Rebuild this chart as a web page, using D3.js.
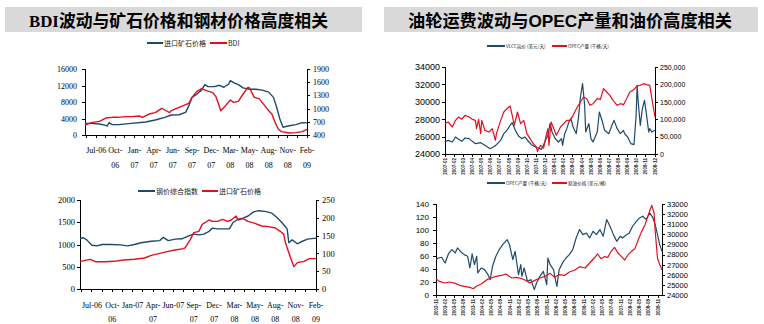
<!DOCTYPE html>
<html><head><meta charset="utf-8">
<script src="https://cdn.jsdelivr.net/npm/d3@7"></script>
<style>body{margin:0;background:#fff}svg{display:block}</style>
</head><body><svg id="c" width="764" height="324"></svg>
<script>
// ---------- DATA ----------
// Top-left: 进口矿石价格 (right axis) & BDI (left axis), weekly index from mid-2006
const tlOreWeek  = [0,4,9,13,14,15,17,21,29,38,44,50,54,59,61,63,65,67,70,73,75,77,81,84,87,90,91,94,96,99,103,107,111,115,118,120,122,124,127,132,136,139];
const tlOreValue = [665,665,650,620,605,680,635,635,665,695,740,800,855,860,890,915,1065,1255,1330,1420,1545,1500,1500,1530,1485,1560,1635,1575,1545,1470,1440,1440,1420,1375,1255,1030,765,575,605,635,680,675];
const tlBdiWeek  = [0,4,9,13,17,21,25,29,34,36,40,44,48,50,53,54,59,63,65,67,70,73,76,80,82,84,85,88,91,93,96,99,102,103,106,109,112,115,117,119,121,123,128,132,136,139];
const tlBdiValue = [2425,2990,3315,4120,4285,4285,4445,4445,4605,4285,5090,5415,6465,6060,5415,5900,6705,7355,7675,9130,10585,11230,10745,10260,9290,7110,5900,7110,8485,7920,8160,9940,11555,11390,9130,8805,7355,5900,5090,3070,1455,810,485,565,810,1375];
const tlLabelWeek = [7,19,31,43,55,67,79,91,103,115,127,139];
const tlLabels = ["Jul-06","Oct-\n06","Jan-\n07","Apr-\n07","Jun-\n07","Sep-\n07","Dec-\n07","Mar-\n08","May-\n08","Aug-\n08","Nov-\n08","Feb-\n09"];

// Bottom-left: 钢价综合指数 (right axis) & 进口矿石价格 (left axis)
const blSteelWeek  = [0,2,4,7,10,13,18,24,28,32,36,42,47,49,52,56,60,64,67,70,73,76,78,81,85,88,90,93,96,99,102,105,109,113,116,119,122,123,125,128,130,134,139];
const blSteelValue = [142,144,138,123,121,125,125,124,121,125,130,134,136,145,136,140,141,149,154,152,154,162,171,169,169,169,186,196,199,205,216,220,218,213,201,186,169,130,138,127,132,140,143];
const blOreWeek  = [0,3,6,9,15,20,26,32,38,42,47,52,56,61,62,65,67,70,72,76,78,81,84,87,89,92,93,96,99,103,107,111,115,118,120,121,124,126,128,132,135,139];
const blOreValue = [614,644,667,614,614,622,652,667,697,756,801,846,876,906,929,1116,1266,1296,1453,1550,1520,1520,1565,1520,1550,1640,1550,1580,1520,1476,1416,1401,1371,1296,1228,1041,704,502,592,622,682,682];
const blLabelWeek = [7,19,31,43,55,67,79,91,103,115,127,139];
const blLabels = ["Jul-06","Oct-\n06","Jan-07","Apr-\n07","Jun-07","Sep-\n07","Dec-\n07","Mar-\n08","May-\n08","Aug-\n08","Nov-\n08","Feb-\n09"];

// Top-right: VLCC运价 (right axis) & OPEC产量 (left axis)
const trOpecIdx = [0,3,7,10,13,16,19,23,26,29,30,32,34,35,38,42,45,48,49,53,56,59,62,64,66,69,72,75,78,81,84,87,88,91,94,96,98,99,101,103,106,110,113,116,119,122,126,129,132,135,138,141,145,148,151,154,157,160,164,167,170,173,176,179,183,186,189,192,195,197,200];
const trOpecValue = [27486,27678,27103,27869,28252,27984,28444,28252,27984,27869,26912,27984,26337,27869,26720,26528,26912,25571,26337,27869,28827,29210,29517,28444,27295,28827,27486,27869,26337,25762,25188,24805,24306,24996,24690,25954,26912,24996,27678,27103,26145,27103,27486,27869,27869,28444,29402,29976,30551,30359,29593,29785,30359,30283,31509,31126,30743,30168,29593,29785,29670,30359,31126,31317,31815,31892,32083,31968,31892,30359,28252];
const trVlccIdx = [0,3,7,10,13,16,19,23,26,29,34,38,43,46,49,53,56,59,62,64,67,70,73,76,80,83,86,89,92,95,98,100,102,105,108,111,112,114,116,118,120,122,125,127,129,131,133,134,137,139,141,145,147,150,152,156,159,161,164,167,170,171,174,177,180,182,183,184,186,188,190,192,194,195,197,200];
const trVlccValue = [34500,39300,34500,48900,42100,36400,46000,44100,36400,29700,32600,24900,15300,20100,26800,39300,58400,68000,82400,90000,68000,51700,44100,48900,34500,24900,20100,17200,13400,34500,53600,87200,63200,44100,34500,44100,24900,58400,72800,92000,101500,77600,58400,101500,163800,202100,139900,63200,87200,44100,34500,63200,120700,92000,68000,58400,82400,96700,72800,58400,68000,58400,48900,29700,26800,111100,197300,149400,82400,130300,154200,111100,63200,72800,63200,68000];
const trLabels = ["2007-01","2007-02","2007-03","2007-04","2007-05","2007-06","2007-07","2007-08","2007-09","2007-10","2007-11","2007-12","2008-01","2008-02","2008-03","2008-04","2008-05","2008-06","2008-07","2008-08","2008-09","2008-10","2008-11","2008-12"];

// Bottom-right: OPEC产量 (right axis) & 原油价格 (left axis)
const brOilIdx = [0,3,8,12,17,21,25,30,33,36,40,45,49,53,58,62,67,71,76,80,83,87,92,96,101,105,109,114,118,123,127,132,136,140,143,146,149,152,155,158,161,164,167,170,173,176,179,182,185,188,190,191,193,194,196,198,200];
const brOilValue = [25.1,21.0,18.5,20.0,17.9,14.9,13.3,11.8,9.7,13.8,16.9,23.6,26.2,28.7,30.3,32.3,26.2,27.2,25.1,22.1,18.5,22.1,26.2,28.2,33.3,27.2,31.3,30.3,35.4,38.5,43.6,41.5,49.2,56.9,63.1,55.9,59.0,57.9,67.2,73.3,64.6,59.5,53.8,62.0,67.2,71.3,85.1,97.9,108.2,123.6,133.8,137.9,126.1,97.9,56.9,46.7,39.0];
const brOpecIdx = [0,2,5,8,11,14,17,19,22,25,28,30,32,34,36,37,40,43,46,48,50,53,56,59,63,65,68,70,73,75,76,78,81,84,87,89,92,95,98,99,101,104,106,107,109,112,115,118,121,124,127,130,133,136,139,142,145,148,151,154,157,160,163,165,168,171,174,177,180,183,186,189,192,194,196,198,200];
const brOpecValue = [27500,27660,27730,27170,28060,28490,28160,28650,28260,27990,27830,26670,28060,27000,27830,26180,26670,26510,26010,25520,26840,27830,28490,28980,29480,28980,27500,28320,26010,27000,25850,26670,25350,25520,24530,25190,25850,26340,25020,27660,27000,26510,25350,24860,26510,27170,27660,27990,28490,29640,30470,29970,30140,29640,30300,29970,30470,29810,31460,30800,29970,29310,29810,29640,29910,30140,30800,31230,31620,31790,31460,32120,31620,30960,29970,28980,28320];
const brLabels = ["2002-11","2003-02","2003-05","2003-08","2003-11","2004-02","2004-05","2004-08","2004-11","2005-02","2005-05","2005-08","2005-11","2006-02","2006-05","2006-08","2006-11","2007-02","2007-05","2007-08","2007-11","2008-02","2008-05","2008-08","2008-11"];

const leftTitle = "BDI波动与矿石价格和钢材价格高度相关";
const rightTitle = "油轮运费波动与OPEC产量和油价高度相关";

// ---------- DRAW ----------
const BLUE = "#1d4a6c", RED = "#e2101e";
const svg = d3.select("#c");
svg.append("rect").attr("width",764).attr("height",324).attr("fill","#fff");

function titleBand(x0, x1, tx, tlen, text, family) {
  svg.append("rect").attr("x", x0).attr("y", 7).attr("width", x1 - x0).attr("height", 25).attr("fill", "#d9d9d9");
  svg.append("text").attr("x", tx).attr("y", 26.5).attr("font-family", family)
    .attr("font-weight", "bold").attr("font-size", 17).attr("fill", "#000")
    .attr("textLength", tlen).attr("lengthAdjust", "spacingAndGlyphs").text(text);
}
titleBand(5, 362, 29, 299, leftTitle, "'Liberation Serif','Noto Sans CJK SC'");
titleBand(384, 758, 408, 324, rightTitle, "'Liberation Sans','Noto Sans CJK SC'");

function panel(o) {
  const g = svg.append("g");
  const x = d3.scaleLinear().domain(o.xDomain).range([o.x0, o.x1]);
  const yL = d3.scaleLinear().domain(o.yL).range([o.yB, o.yT]);
  const yR = d3.scaleLinear().domain(o.yR).range([o.yB, o.yT]);

  const axL = g.append("g").attr("transform", `translate(${o.x0},0)`)
    .call(d3.axisLeft(yL).tickValues(d3.range(o.yL[0], o.yL[1] + 1e-9, o.yLStep)).tickSize(3).tickPadding(o.padL).tickFormat(o.fmtL || (d => d)));
  const axR = g.append("g").attr("transform", `translate(${o.x1},0)`)
    .call(d3.axisRight(yR).tickValues(d3.range(o.yR[0], o.yR[1] + 1e-9, o.yRStep)).tickSize(3).tickPadding(o.padR).tickFormat(o.fmtR || (d => d)));
  [axL, axR].forEach(a => {
    a.selectAll("path,line").attr("stroke", "#000").attr("shape-rendering", "crispEdges");
    a.selectAll("text").attr("font-family", o.font).attr("fill", "#000");
  });
  axL.selectAll("text").attr("font-size", o.fsL);
  axR.selectAll("text").attr("font-size", o.fsR);
  axL.select(".domain").attr("d", `M0,${o.yT}V${o.yB}`);
  axR.select(".domain").attr("d", `M0,${o.yT}V${o.yB}`);

  // bottom axis line
  g.append("line").attr("x1", o.x0).attr("x2", o.x1).attr("y1", o.yB).attr("y2", o.yB)
    .attr("stroke", "#000").attr("shape-rendering", "crispEdges");

  // series
  o.series.forEach(s => {
    const ys = s.axis === "L" ? yL : yR;
    const pts = s.idx.map((d, i) => [d, s.val[i]]);
    g.append("path").attr("d", d3.line().x(d => x(d[0])).y(d => ys(d[1]))(pts))
      .attr("fill", "none").attr("stroke", s.color).attr("stroke-width", o.lw).attr("stroke-linejoin", "round");
  });

  // legend
  o.legend.forEach(l => {
    g.append("line").attr("x1", l.x).attr("x2", l.x + l.w).attr("y1", o.legY).attr("y2", o.legY)
      .attr("stroke", l.color).attr("stroke-width", 2);
    g.append("text").attr("x", l.x + l.w + 1).attr("y", o.legY).attr("dy", "0.36em")
      .attr("font-family", "'Noto Sans CJK SC','Liberation Sans'").attr("font-size", o.legFs)
      .attr("fill", "#222").text(l.text);
  });
  return {g, x};
}

// ----- Top-left -----
{
  const p = panel({
    xDomain: [0, 139], x0: 85, x1: 307, yT: 69, yB: 135,
    yL: [0, 16000], yLStep: 4000, yR: [400, 1900], yRStep: 300,
    padL: 5, padR: 3, font: "'Liberation Serif'", fsL: 8, fsR: 8, lw: 1.4,
    series: [
      {idx: tlOreWeek, val: tlOreValue, axis: "R", color: BLUE},
      {idx: tlBdiWeek, val: tlBdiValue, axis: "L", color: RED}
    ],
    legY: 43, legFs: 7,
    legend: [{x: 147, w: 16, text: "进口矿石价格", color: BLUE}, {x: 210, w: 17, text: "BDI", color: RED}]
  });
  const ticks = d3.range(1, 140, 6);
  p.g.selectAll(".bt").data(ticks).join("line").attr("x1", d => p.x(d)).attr("x2", d => p.x(d))
    .attr("y1", 135).attr("y2", 138).attr("stroke", "#000").attr("shape-rendering", "crispEdges");
  tlLabels.forEach((lab, i) => {
    const t = p.g.append("text").attr("font-family", "'Liberation Serif'").attr("font-size", 8)
      .attr("text-anchor", "middle").attr("fill", "#000");
    lab.split("\n").forEach((s, j) => t.append("tspan").attr("x", p.x(tlLabelWeek[i])).attr("y", 153 + j * 14.5).text(s));
  });
}

// ----- Bottom-left -----
{
  const p = panel({
    xDomain: [0, 139], x0: 80, x1: 316, yT: 200, yB: 289,
    yL: [0, 2000], yLStep: 500, yR: [0, 250], yRStep: 50,
    padL: 2, padR: 3, font: "'Liberation Serif'", fsL: 8.5, fsR: 8.5, lw: 1.4,
    series: [
      {idx: blSteelWeek, val: blSteelValue, axis: "R", color: BLUE},
      {idx: blOreWeek, val: blOreValue, axis: "L", color: RED}
    ],
    legY: 191, legFs: 7,
    legend: [{x: 138, w: 17, text: "钢价综合指数", color: BLUE}, {x: 202, w: 16, text: "进口矿石价格", color: RED}]
  });
  const ticks = d3.range(1, 140, 6);
  p.g.selectAll(".bt").data(ticks).join("line").attr("x1", d => p.x(d)).attr("x2", d => p.x(d))
    .attr("y1", 289).attr("y2", 292).attr("stroke", "#000").attr("shape-rendering", "crispEdges");
  blLabels.forEach((lab, i) => {
    const t = p.g.append("text").attr("font-family", "'Liberation Serif'").attr("font-size", 8)
      .attr("text-anchor", "middle").attr("fill", "#000");
    lab.split("\n").forEach((s, j) => t.append("tspan").attr("x", p.x(blLabelWeek[i])).attr("y", 308 + j * 13.5).text(s));
  });
}

function rotLabels(p, labels, x0, x1, yAxis) {
  const sp = d3.scalePoint().domain(labels).range([x0, x1]);
  p.g.selectAll(".rt").data(labels).join("line").attr("x1", d => sp(d)).attr("x2", d => sp(d))
    .attr("y1", yAxis).attr("y2", yAxis + 3).attr("stroke", "#000").attr("shape-rendering", "crispEdges");
  p.g.selectAll(".rl").data(labels).join("text")
    .attr("transform", d => `translate(${sp(d)},${yAxis + 4}) rotate(-90)`)
    .attr("text-anchor", "end").attr("dy", "0.35em")
    .attr("font-family", "'Liberation Sans'").attr("font-weight", "bold").attr("font-size", 4.6)
    .attr("fill", "#222").text(d => d);
}

// ----- Top-right -----
{
  const p = panel({
    xDomain: [0, 200], x0: 445, x1: 655, yT: 67, yB: 154,
    yL: [24000, 34000], yLStep: 2000, yR: [0, 250000], yRStep: 50000,
    padL: 2, padR: 2, font: "'Liberation Sans'", fsL: 9, fsR: 7, lw: 1.2,
    fmtL: d3.format("d"), fmtR: d3.format(",d"),
    series: [
      {idx: trVlccIdx, val: trVlccValue, axis: "R", color: BLUE},
      {idx: trOpecIdx, val: trOpecValue, axis: "L", color: RED}
    ],
    legY: 46, legFs: 4.6,
    legend: [{x: 487, w: 18, text: "VLCC运价 (美元/天)", color: BLUE}, {x: 552, w: 15, text: "OPEC产量 (千桶/天)", color: RED}]
  });
  rotLabels(p, trLabels, 445, 655, 154);
}

// ----- Bottom-right -----
{
  const p = panel({
    xDomain: [0, 200], x0: 436, x1: 662, yT: 204, yB: 295,
    yL: [0, 140], yLStep: 20, yR: [24000, 33000], yRStep: 1000,
    padL: 4, padR: 2, font: "'Liberation Sans'", fsL: 8, fsR: 7.5, lw: 1.2,
    fmtL: d3.format("d"), fmtR: d3.format("d"),
    series: [
      {idx: brOpecIdx, val: brOpecValue, axis: "R", color: BLUE},
      {idx: brOilIdx, val: brOilValue, axis: "L", color: RED}
    ],
    legY: 183, legFs: 4.6,
    legend: [{x: 487, w: 18, text: "OPEC产量 (千桶/天)", color: BLUE}, {x: 552, w: 15, text: "原油价格 (美元/桶)", color: RED}]
  });
  rotLabels(p, brLabels, 436, 658, 295);
}
</script>
</body></html>
